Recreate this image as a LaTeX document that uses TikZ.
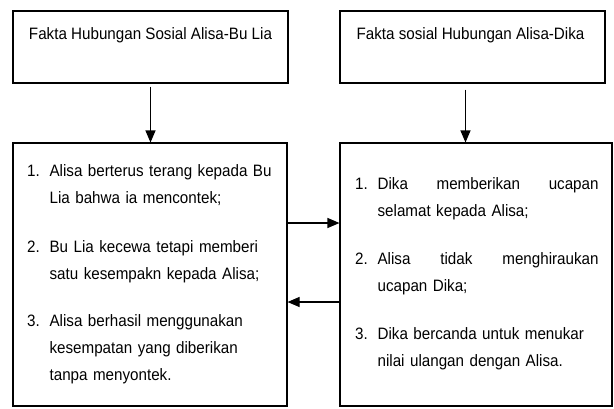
\documentclass[tikz,border=0pt]{standalone}
\usepackage{fontspec}
\setmainfont[FakeStretch=0.92]{Liberation Sans}
\usetikzlibrary{arrows.meta, positioning}

\tikzset{
  box/.style={draw, line width=1.1pt, inner sep=0pt},
  arr/.style={line width=1.1pt, -{Triangle[width=10pt,length=12pt]}},
  txt/.style={font=\fontsize{16.5}{27}\selectfont, inner sep=0pt},
  numA/.style={txt, text width=22pt, anchor=base west},
  numB/.style={txt, text width=22pt, anchor=base west},
  itemtxt/.style={txt, text width=232pt, align=left, anchor=north west},
}

\begin{document}
\begin{tikzpicture}[x=1pt, y=-1pt]
    \useasboundingbox (0,0) rectangle (614,408);
    % top boxes
    \node[box, minimum width=275pt, minimum height=72pt] (factA) at (150.5,47) {};
    \node[box, minimum width=265pt, minimum height=72pt] (factB) at (472.5,47) {};
    \node[txt, anchor=base] (titleA) at (150.5,39) {Fakta Hubungan Sosial Alisa-Bu Lia};
    \node[txt, anchor=base] (titleB) at (470.5,39) {Fakta sosial Hubungan Alisa-Dika};
    % lower boxes
    \node[box, minimum width=274pt, minimum height=263pt] (listA) at (150,274.5) {};
    \node[box, minimum width=272pt, minimum height=263pt] (listB) at (476,274.5) {};
    % items in the left box
    \foreach \i/\y/\t in {1/176/{Alisa berterus terang kepada Bu\\Lia bahwa ia mencontek;},
                          2/252/{Bu Lia kecewa tetapi memberi\\satu kesempakn kepada Alisa;},
                          3/326/{Alisa berhasil menggunakan\\kesempatan yang diberikan\\tanpa menyontek.}} {
      \node[numA] (numA\i) at (27,\y) {\i.};
      \node[itemtxt] (itemA\i) at (numA\i.north east) {\t};
    }
    % items in the right box
    \foreach \i/\y/\t in {1/189/{Dika\hfill memberikan\hfill ucapan\\selamat kepada Alisa;},
                          2/264/{Alisa\hfill tidak\hfill menghiraukan\\ucapan Dika;},
                          3/339/{Dika bercanda untuk menukar\\nilai ulangan dengan Alisa.}} {
      \node[numB] (numB\i) at (355,\y) {\i.};
      \node[itemtxt, text width=221pt] (itemB\i) at (numB\i.north east) {\t};
    }
    % connectors
    \draw[arr] ([yshift=-3pt]factA.south) -- (factA.south |- listA.north);
    \draw[arr] ([xshift=-7pt, yshift=-6pt]factB.south) -- ([xshift=-7pt]factB.south |- listB.north);
    \draw[arr] ([yshift=51.5pt]listA.east) -- ([yshift=51.5pt]listB.west);
    \draw[arr] ([yshift=-27.5pt]listB.west) -- ([yshift=-27.5pt]listA.east);
\end{tikzpicture}
\end{document}
